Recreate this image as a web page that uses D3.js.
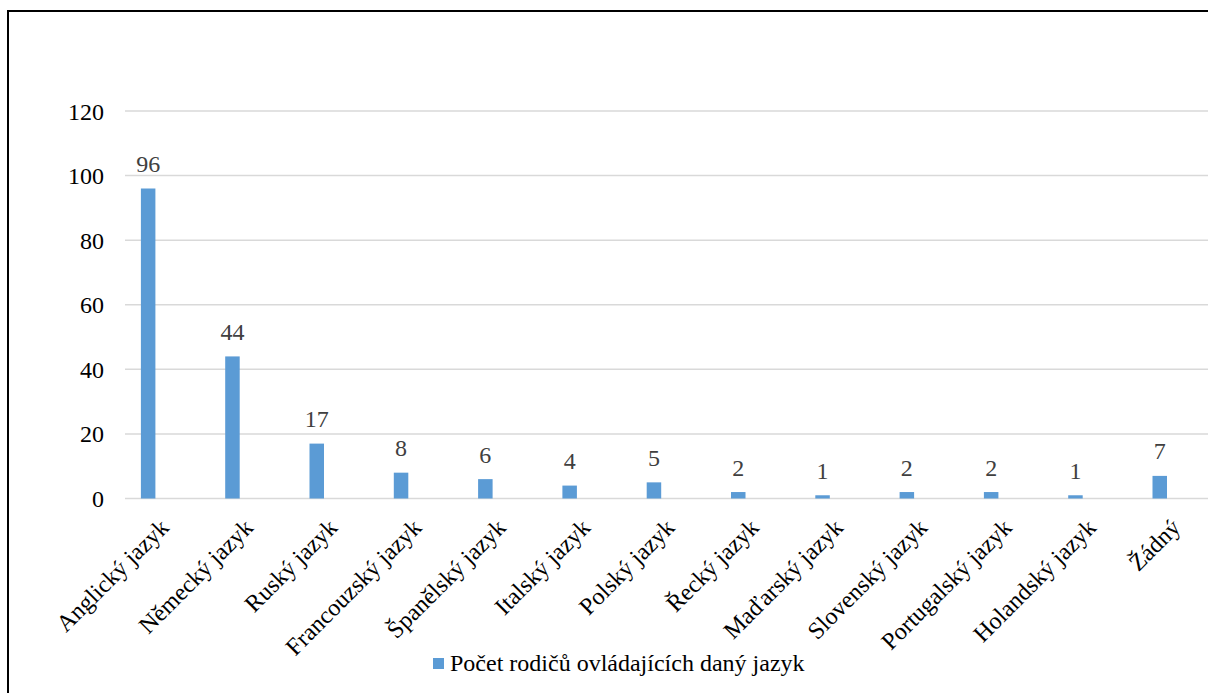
<!DOCTYPE html>
<html>
<head>
<meta charset="utf-8">
<script src="https://cdn.jsdelivr.net/npm/d3@7"></script>
<style>
  html, body { margin: 0; padding: 0; background: #fff; overflow: hidden; }
  svg { display: block; }
  text { font-family: "Liberation Serif", "Times New Roman", serif; }
</style>
</head>
<body>
<svg id="chart" width="1208" height="693"></svg>
<script>
// Languages spoken by parents and number of parents for each
const categories = [
  "Anglický jazyk", "Německý jazyk", "Ruský jazyk", "Francouzský jazyk",
  "Španělský jazyk", "Italský jazyk", "Polský jazyk", "Řecký jazyk",
  "Maďarský jazyk", "Slovenský jazyk", "Portugalský jazyk", "Holandský jazyk", "Žádný"
];
const values = [96, 44, 17, 8, 6, 4, 5, 2, 1, 2, 2, 1, 7];
const yTicks = [0, 20, 40, 60, 80, 100, 120];
const seriesName = "Počet rodičů ovládajících daný jazyk";

const svg = d3.select("#chart");
const fontSize = 24;

// outer frame (runs off the right and bottom edges)
svg.append("rect")
  .attr("x", 8).attr("y", 11)
  .attr("width", 1260).attr("height", 760)
  .attr("fill", "none").attr("stroke", "#000").attr("stroke-width", 2);

const x = d3.scaleBand()
  .domain(categories)
  .range([106, 106 + 13 * 84.3])
  .paddingInner(0.828)
  .paddingOuter(0.414);

const y = d3.scaleLinear().domain([0, 120]).range([498.5, 111]);

// gridlines
svg.append("g")
  .selectAll("line")
  .data(yTicks)
  .join("line")
  .attr("x1", 125).attr("x2", 1208)
  .attr("y1", d => y(d)).attr("y2", d => y(d))
  .attr("stroke", "#d9d9d9").attr("stroke-width", 1.5);

// y axis labels
const yAxis = d3.axisLeft(y).tickValues(yTicks).tickSize(0).tickPadding(0);
const gy = svg.append("g").attr("transform", "translate(104,0)").call(yAxis);
gy.select(".domain").remove();
gy.attr("font-family", null).attr("font-size", null);
gy.selectAll("text")
  .attr("x", 0).attr("dy", null).attr("y", 8)
  .style("font-size", fontSize + "px")
  .attr("fill", "#000");

// bars
svg.append("g")
  .selectAll("rect")
  .data(values)
  .join("rect")
  .attr("x", (d, i) => x(categories[i]))
  .attr("width", x.bandwidth())
  .attr("y", d => y(d))
  .attr("height", d => y(0) - y(d))
  .attr("fill", "#5b9bd5");

// value labels
svg.append("g")
  .selectAll("text")
  .data(values)
  .join("text")
  .attr("x", (d, i) => x(categories[i]) + x.bandwidth() / 2)
  .attr("y", d => y(d) - 16.5)
  .attr("text-anchor", "middle")
  .style("font-size", fontSize + "px")
  .attr("fill", "#404040")
  .text(d => d);

// category labels, rotated
svg.append("g")
  .selectAll("text")
  .data(categories)
  .join("text")
  .attr("transform", d => `translate(${x(d) + x.bandwidth() / 2 + 22},${529}) rotate(-45)`)
  .attr("text-anchor", "end")
  .style("font-size", fontSize + "px")
  .attr("fill", "#000")
  .text(d => d);

// legend
const lg = svg.append("g");
lg.append("rect")
  .attr("x", 433).attr("y", 658).attr("width", 11).attr("height", 11)
  .attr("fill", "#5b9bd5");
lg.append("text")
  .attr("x", 450).attr("y", 671)
  .style("font-size", fontSize + "px")
  .attr("fill", "#000")
  .text(seriesName);
</script>
</body>
</html>
